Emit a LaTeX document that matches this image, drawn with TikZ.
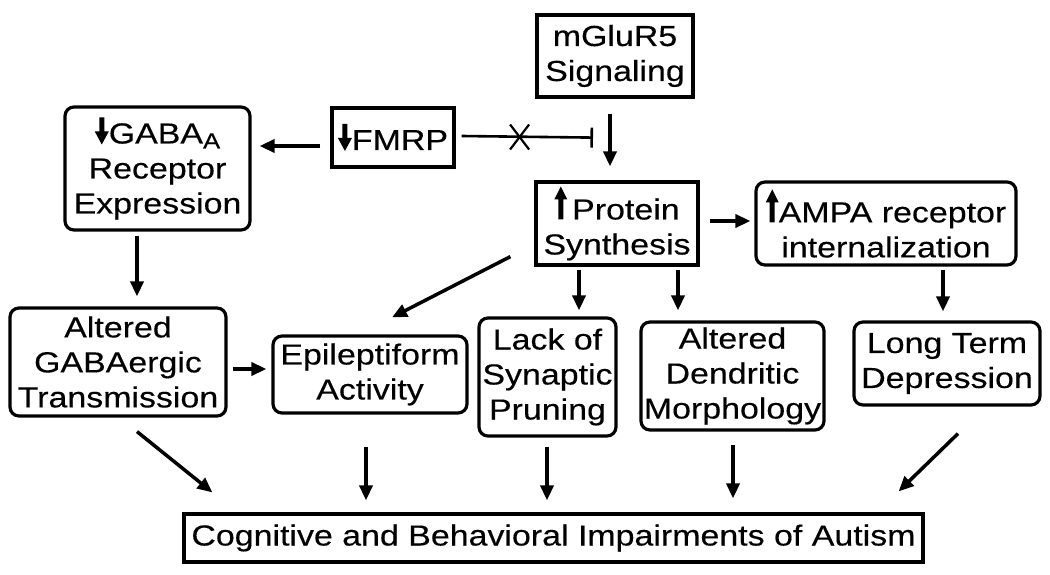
\documentclass[tikz,border=0pt]{standalone}
\usepackage{fontspec}
\setmainfont{Liberation Sans}[FakeStretch=1.17,FakeBold=0.3]
\usetikzlibrary{arrows.meta,calc}
\newcommand\upa{\tikz[x=1pt,y=1pt,baseline=0pt,sharp corners]{\path[fill=black,draw=none] (3.5,0) -- (8.5,0) -- (8.5,20) -- (12.5,20) -- (6,33) -- (-0.5,20) -- (3.5,20) -- cycle;}}
\newcommand\dna{\tikz[x=1pt,y=1pt,baseline=0pt,sharp corners]{\path[fill=black,draw=none] (4,26) -- (9,26) -- (9,12) -- (13.5,12) -- (6.5,-1) -- (-0.5,12) -- (4,12) -- cycle;}}
\newcommand\fs{\fontsize{29}{35}\selectfont}
\begin{document}
\begin{tikzpicture}[x=1pt,y=-1pt,
  sq/.style={draw, line width=3.2pt, inner sep=0pt, align=center, font=\fs},
  rb/.style={sq, rounded corners=9pt},
  arr/.style={line width=3.5pt, -{Triangle[length=15pt,width=13pt]}},
  inh/.style={line width=2.6pt, -{Bar[width=20pt,line width=2.6pt]}},
  thin/.style={line width=2.2pt}]
\fill[white] (0,0) rectangle (1050,575);
\useasboundingbox (0,0) rectangle (1050,575);
\node[sq, minimum width=156, minimum height=82] (mg) at (615,56) {mGluR5\\Signaling};
\node[sq, minimum width=122, minimum height=59] (fmrp) at (393,137.5) {\dna FMRP};
\node[rb, minimum width=185, minimum height=123] (gaba) at (157.5,168.5) {\dna GABA\raisebox{-5pt}{\fontsize{22}{22}\selectfont A}\\Receptor\\Expression};
\node[sq, minimum width=162, minimum height=83] (ps) at (617,223.5) {\upa\,Protein\\Synthesis};
\node[rb, minimum width=260, minimum height=83] (ampa) at (886,223.5) {\upa AMPA receptor\\internalization};
\node[rb, minimum width=216, minimum height=108] (alt) at (118,362) {Altered\\GABAergic\\Transmission};
\node[rb, minimum width=194, minimum height=77] (epi) at (370,374.5) {Epileptiform\\Activity};
\node[rb, minimum width=137, minimum height=118] (lack) at (547.5,377) {Lack of\\Synaptic\\Pruning};
\node[rb, minimum width=183, minimum height=108] (dend) at (732.5,376) {Altered\\Dendritic\\Morphology};
\node[rb, minimum width=186, minimum height=83] (ltd) at (947,363.5) {Long Term\\Depression};
\node[sq, minimum width=739, minimum height=48] (cog) at (553.5,538) {Cognitive and Behavioral Impairments of Autism};

% FMRP -> GABA
\draw[arr] ($(fmrp.west)+(-10,8.5)$) -- ($(gaba.east)+(8,-22.5)$);
% FMRP inhibition (blocked)
\draw[inh] ($(fmrp.east)+(6,-1.5)$) -- ($(mg.south)+(-22,39)$);
\coordinate (xm) at ($(fmrp.east)+(64,-0.5)$);
\draw[thin] ($(xm)+(-9.5,-12.5)$) -- ($(xm)+(9.5,12.5)$);
\draw[thin] ($(xm)+(-9.5,12.5)$) -- ($(xm)+(9.5,-12.5)$);
% mGluR5 -> protein synthesis
\draw[arr] ($(mg.south)+(-5,15)$) -- ($(ps.north)+(-7,-14)$);
% protein synthesis -> AMPA
\draw[arr] ($(ps.east)+(10,-2.5)$) -- ($(ampa.west)+(-4,-2.5)$);
% protein synthesis -> epileptiform
\draw[arr] ($(ps.south west)+(-24,-10)$) -- ($(epi.north)+(22,-17)$);
% protein synthesis -> lack / dendritic
\draw[arr] ($(ps.south)+(-38,3)$) -- ($(lack.north)+(31.5,-6)$);
\draw[arr] ($(ps.south)+(61,3)$) -- ($(dend.north)+(-54.5,-10)$);
% AMPA -> LTD
\draw[arr] ($(ampa.south)+(57,3)$) -- ($(ltd.north)+(-4,-9)$);
% GABA -> altered
\draw[arr] ($(gaba.south)+(-20.5,4)$) -- ($(alt.north)+(19,-10)$);
% altered -> epileptiform
\draw[arr] ($(alt.east)+(5,7)$) -- ($(epi.west)+(-5,-5.5)$);
% to cognitive
\draw[arr] ($(alt.south)+(19,14)$) -- ($(cog.north west)+(30,-20)$);
\draw[arr] ($(epi.south)+(-4,32)$) -- ($(cog.north)+(-187.5,-12)$);
\draw[arr] ($(lack.south)+(-0.5,9)$) -- ($(cog.north)+(-6.5,-12)$);
\draw[arr] ($(dend.south)+(0.5,13)$) -- ($(cog.north)+(179.5,-14)$);
\draw[arr] ($(ltd.south)+(11,27)$) -- ($(cog.north east)+(-26,-21)$);
\end{tikzpicture}
\end{document}
